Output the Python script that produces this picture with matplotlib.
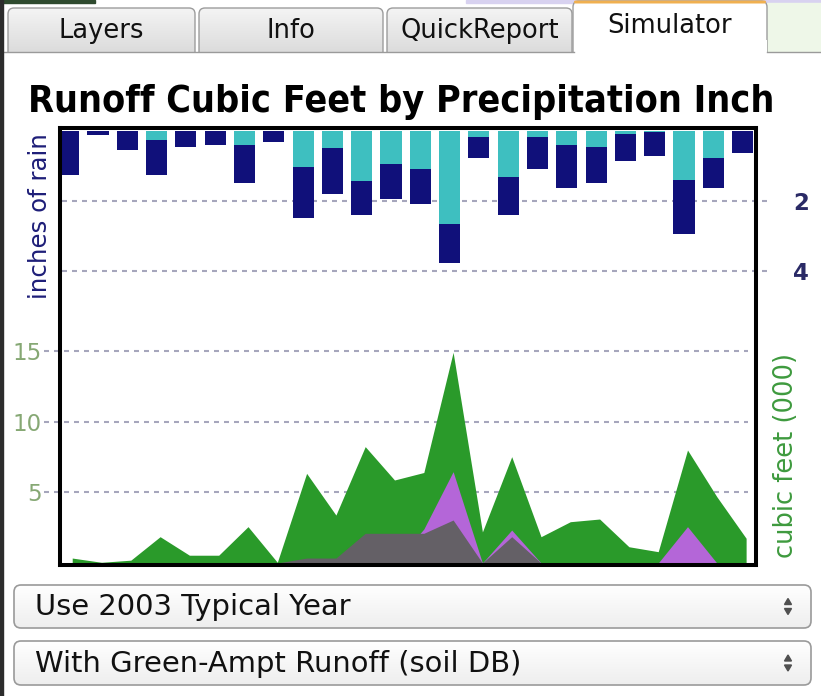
import matplotlib
matplotlib.use("Agg")
import matplotlib.pyplot as plt
import matplotlib.colors as mcolors
from matplotlib.patches import FancyBboxPatch, Rectangle, Polygon
import numpy as np

plt.rcParams['font.family'] = ['DejaVu Sans']
plt.rcParams['lines.scale_dashes'] = False

W, H, DPI = 821, 696, 100

# ---------------- data ----------------
periods = list(range(1, 25))
rain_runoff_in = [0, 0, 0, 0.26, 0, 0, 0.42, 0, 1.03, 0.50, 1.44, 0.97,
                  1.11, 2.66, 0.18, 1.34, 0.18, 0.42, 0.48, 0.10, 0.03, 1.42, 0.79, 0]
rain_infiltrated_in = [1.27, 0.12, 0.57, 1.01, 0.48, 0.41, 1.08, 0.34, 1.48, 1.31, 0.97, 0.99,
                       0.99, 1.13, 0.60, 1.07, 0.91, 1.21, 1.02, 0.77, 0.69, 1.53, 0.85, 0.63]
runoff_total_kcf = [0.35, 0.05, 0.2, 1.86, 0.55, 0.55, 2.57, 0.05, 6.34, 3.39, 8.23, 5.87,
                    6.4, 14.9, 2.2, 7.52, 1.86, 2.92, 3.11, 1.15, 0.8, 7.99, 4.69, 1.75]
runoff_purple_kcf = [0, 0, 0, 0, 0, 0, 0, 0, 0, 0, 0, 0,
                     2.4, 6.46, 0, 2.33, 0, 0, 0, 0, 0, 2.57, 0, 0]
runoff_gray_kcf = [0, 0, 0, 0, 0, 0, 0, 0, 0.35, 0.35, 2.1, 2.1,
                   2.1, 3.04, 0, 1.86, 0, 0, 0, 0, 0, 0, 0, 0]
rain_ticks = [2, 4]
runoff_ticks = [5, 10, 15]
title = "Runoff Cubic Feet by Precipitation Inch"
tab_labels = ["Layers", "Info", "QuickReport", "Simulator"]
dropdown_labels = ["Use 2003 Typical Year", "With Green-Ampt Runoff (soil DB)"]

# ---------------- colours ----------------
NAVY = "#10107A"
CYAN = "#3EBFC0"
GREEN = "#2A9A2A"
PURPLE = "#B466D8"
GRAY = "#646066"
GRID = "#A6A6BC"

fig = plt.figure(figsize=(W / DPI, H / DPI), dpi=DPI)
fig.patch.set_facecolor('white')
renderer = fig.canvas.get_renderer()

# ---------------- UI background (pixel coordinates) ----------------
bg = fig.add_axes([0, 0, 1, 1], zorder=0)
bg.axis('off')


def fit(t, target, along='w'):
    bb = t.get_window_extent(renderer)
    cur = bb.width if along == 'w' else bb.height
    t.set_fontsize(t.get_fontsize() * target / cur)
    return t


def grad_box(x0, y0, x1, y1, ctop, cbot, r, edge, lw=1.0, z=2):
    p = FancyBboxPatch((x0, y0), x1 - x0, y1 - y0,
                       boxstyle=f"round,pad=0,rounding_size={r}",
                       facecolor='none', edgecolor=edge, lw=lw, zorder=z + 0.5)
    bg.add_patch(p)
    g = np.linspace(0, 1, 64)[:, None, None]
    c0 = np.array(mcolors.to_rgb(ctop))
    c1 = np.array(mcolors.to_rgb(cbot))
    img = c0 + (c1 - c0) * g
    im = bg.imshow(img, extent=(x0, x1, y1, y0), aspect='auto', zorder=z,
                   interpolation='bilinear', origin='upper')
    im.set_clip_path(p)
    return p


# top strips
bg.add_patch(Rectangle((0, 0), 95, 3, color="#2E4A2E", zorder=1))
bg.add_patch(Rectangle((466, 0), 355, 3, color="#D8D2F0", zorder=1))
bg.add_patch(Rectangle((767, 3), 54, 49, color="#EEF7E8", zorder=1))

# tabs (one common font size, fitted on "QuickReport")
probe = bg.text(0, 0, "QuickReport", fontsize=15)
fit(probe, 158)
tab_fs = probe.get_fontsize()
probe.remove()
tab_x = [(8, 195), (199, 383), (387, 572), (573, 767)]
for i, (lab, (x0, x1)) in enumerate(zip(tab_labels, tab_x)):
    if i < 3:
        grad_box(x0, 8, x1, 62, "#F4F4F4", "#D6D6D6", 6, "#9C9C9C")
        ty = 31
    else:
        grad_box(x0, 1, x1, 62, "#FFFFFF", "#FFFFFF", 6, "#9C9C9C")
        bg.add_patch(FancyBboxPatch((x0 + 1, 0.5), x1 - x0 - 2, 3,
                                    boxstyle="round,pad=0,rounding_size=1.5",
                                    facecolor="#F0B050", edgecolor='none', zorder=4))
        ty = 26
    bg.text((x0 + x1) / 2, ty, lab, ha='center', va='center',
            fontsize=tab_fs, color="#111111", zorder=5)

# panel below tabs
bg.add_patch(Rectangle((3, 52.5), W, H, facecolor='white', edgecolor='none', zorder=3.8))
bg.add_patch(Rectangle((573.5, 40), 193, 14, facecolor='white', edgecolor='none', zorder=3.9))
bg.plot([0, 573.5], [52, 52], color="#9A9A9A", lw=1.0, zorder=4)
bg.plot([766.5, W], [52, 52], color="#9A9A9A", lw=1.0, zorder=4)
bg.add_patch(Rectangle((0, 0), 3, H, color="#2C2C2C", zorder=6))

# title
tt = bg.text(28, 102, title, ha='left', va='center', fontsize=20,
             fontweight='bold', fontstretch='condensed', color='black', zorder=5)
fit(tt, 747)

# axis labels
yl = bg.text(40, 216, "inches of rain", rotation=90, ha='center', va='center',
             fontsize=14, color="#1E1E78", zorder=5)
fit(yl, 166, 'h')
yr = bg.text(786, 455, "cubic feet (000)", rotation=90, ha='center', va='center',
             fontsize=14, color="#3E9A3E", zorder=5)
fit(yr, 205, 'h')

# dropdowns
dd_y = [(585, 628), (641, 685)]
dd_w = [317, 485]
for lab, (y0, y1), tw in zip(dropdown_labels, dd_y, dd_w):
    grad_box(14, y0, 811, y1, "#FFFFFF", "#EEEEEE", 7, "#9A9A9A", lw=1.2, z=4)
    t = bg.text(35, (y0 + y1) / 2 + 0.5, lab, ha='left', va='center', fontsize=15,
                color="#111111", zorder=6)
    fit(t, tw)
    cy = (y0 + y1) / 2
    bg.add_patch(Polygon([[784.5, cy - 2], [791.5, cy - 2], [788, cy - 8]],
                         closed=True, color="#505050", zorder=6))
    bg.add_patch(Polygon([[784.5, cy + 2], [791.5, cy + 2], [788, cy + 8]],
                         closed=True, color="#505050", zorder=6))

bg.set_xlim(0, W)
bg.set_ylim(H, 0)

# ---------------- chart ----------------
L, R, T, B = 59.5, 755.5, 127.5, 564.5
ax = fig.add_axes([L / W, 1 - B / H, (R - L) / W, (B - T) / H], zorder=2)
ax.set_facecolor('white')
ax2 = ax.twinx()

x = np.arange(len(periods))
xa = x + 0.12
x0px, dxpx = 68.7, 29.3
ax.set_xlim((L - x0px) / dxpx, (R - x0px) / dxpx)

# runoff axis (left): 0 at y=563 px, 14.14 px per unit
ppu = 14.14
ax.set_ylim(-(B - 563) / ppu, (563 - T) / ppu)
# rain axis (right, inverted): 0 at y=130.5 px, 35 px per inch
ppi = 35.0
ax2.set_ylim((B - 130.5) / ppi, -(130.5 - T) / ppi)

# areas
ax.fill_between(xa, runoff_total_kcf, 0, color=GREEN, lw=0, zorder=1)
ax.fill_between(xa, runoff_purple_kcf, 0, color=PURPLE, lw=0, zorder=1.1)
ax.fill_between(xa, runoff_gray_kcf, 0, color=GRAY, lw=0, zorder=1.2)

# bars
ax2.bar(x, rain_runoff_in, width=0.72, color=CYAN, lw=0, zorder=1)
ax2.bar(x, rain_infiltrated_in, width=0.72, bottom=rain_runoff_in,
        color=NAVY, lw=0, zorder=1)

# grid lines
for v in runoff_ticks:
    ax.plot([(44 - L) / (R - L), (748 - L) / (R - L)], [v, v],
            transform=ax.get_yaxis_transform(), color=GRID, lw=1.5,
            dashes=(3.6, 3.6), clip_on=False, zorder=0.5)
for v in rain_ticks:
    ax2.plot([(62 - L) / (R - L), (770 - L) / (R - L)], [v, v],
             transform=ax2.get_yaxis_transform(), color=GRID, lw=1.5,
             dashes=(3.6, 3.6), clip_on=False, zorder=0.5)

# ticks
ax.set_xticks([])
ax2.set_xticks([])
ax.set_yticks(runoff_ticks)
ax.set_yticklabels([str(v) for v in runoff_ticks])
ax.tick_params(axis='y', length=0, pad=12.6, labelsize=16.5, labelcolor="#86A874")
ax2.set_yticks(rain_ticks)
ax2.set_yticklabels([str(v) for v in rain_ticks])
ax2.tick_params(axis='y', length=0, pad=27, labelsize=16.5, labelcolor="#2A2A66")
for lab in ax2.get_yticklabels():
    lab.set_fontweight('bold')

for sp in ax.spines.values():
    sp.set_visible(False)
for sp in ax2.spines.values():
    sp.set_linewidth(2.9)
    sp.set_color('black')
    sp.set_capstyle('projecting')

fig.savefig("out.png", dpi=DPI, facecolor='white')
